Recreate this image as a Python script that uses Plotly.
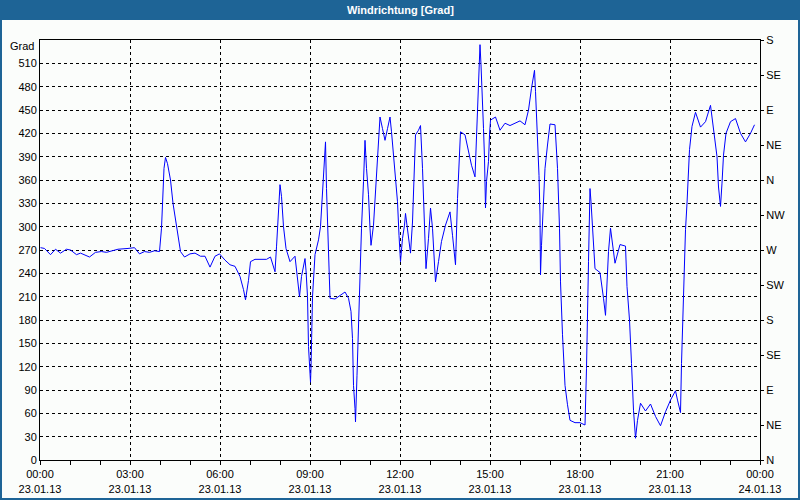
import plotly.graph_objects as go
import pandas as pd

# minutes after 23.01.13 00:00 and wind direction in degrees
minutes = [1, 9, 21, 31, 41, 53, 61, 73, 81, 89, 99, 111, 123, 133, 143, 156, 176, 189, 199, 209,
           219, 229, 239, 243, 248, 251, 255, 261, 266, 273, 281, 289, 296, 300, 310, 321, 330, 340, 350, 359,
           370, 380, 390, 400, 407, 411, 417, 421, 430, 453, 461, 470, 473, 477, 480, 483, 487, 492, 500, 510,
           515, 519, 523, 528, 530, 532, 535, 537, 539, 541, 542, 543, 545, 550, 557, 561, 565, 569, 571, 573,
           577, 580, 590, 600, 610, 617, 622, 625, 627, 630, 631, 634, 637, 640, 643, 647, 650, 653, 657, 660,
           662, 667, 670, 673, 677, 680, 685, 690, 695, 700, 703, 707, 711, 715, 718, 721, 725, 729, 731, 735,
           739, 741, 745, 748, 751, 757, 761, 765, 767, 770, 772, 777, 781, 785, 788, 791, 797, 803, 811, 820,
           825, 829, 831, 835, 838, 841, 850, 858, 863, 870, 873, 877, 880, 882, 885, 887, 889, 891, 893, 897,
           899, 901, 911, 920, 930, 940, 950, 960, 970, 977, 983, 989, 991, 995, 998, 1000, 1001, 1003, 1007, 1010,
           1015, 1020, 1030, 1035, 1039, 1041, 1045, 1050, 1055, 1060, 1070, 1080, 1090, 1093, 1097, 1100, 1102, 1105, 1110, 1120,
           1123, 1127, 1131, 1133, 1137, 1141, 1145, 1150, 1160, 1171, 1174, 1179, 1183, 1187, 1191, 1195, 1201, 1211, 1221, 1231,
           1241, 1251, 1261, 1271, 1275, 1281, 1283, 1285, 1288, 1291, 1294, 1299, 1304, 1311, 1321, 1331, 1341, 1344, 1349, 1354,
           1357, 1361, 1364, 1367, 1372, 1381, 1391, 1401, 1411, 1421, 1429]
grad = [273, 272, 264, 271, 266, 271, 270, 264, 266, 264, 261, 267, 268, 267, 269, 271, 272, 273, 265, 268,
        267, 269, 268, 298, 375, 389, 381, 360, 330, 300, 268, 261, 264, 265, 266, 262, 262, 248, 262, 265,
        257, 251, 249, 236, 219, 206, 231, 255, 258, 258, 261, 242, 274, 317, 354, 339, 300, 272, 255, 262,
        236, 210, 236, 253, 259, 244, 210, 146, 115, 100, 118, 150, 210, 264, 283, 300, 347, 394, 409, 349,
        268, 208, 207, 211, 216, 208, 191, 156, 96, 66, 49, 109, 182, 238, 298, 358, 411, 375, 341, 298,
        276, 302, 336, 375, 409, 441, 426, 411, 426, 441, 422, 392, 362, 332, 289, 255, 285, 302, 317, 298,
        281, 266, 306, 358, 418, 424, 430, 375, 336, 268, 246, 285, 324, 298, 255, 229, 255, 281, 302, 319,
        289, 268, 251, 336, 371, 422, 418, 396, 379, 364, 413, 482, 534, 508, 469, 426, 388, 324, 358, 384,
        418, 437, 441, 424, 433, 430, 433, 436, 431, 450, 478, 501, 474, 422, 366, 315, 238, 276, 324, 375,
        405, 432, 431, 375, 298, 229, 161, 96, 71, 51, 48, 48, 45, 118, 255, 349, 332, 298, 246, 241,
        229, 208, 186, 221, 268, 298, 280, 253, 277, 275, 223, 180, 124, 64, 28, 51, 73, 63, 72, 56,
        44, 62, 77, 89, 77, 61, 124, 176, 236, 296, 330, 399, 429, 447, 428, 435, 456, 441, 420, 390,
        351, 326, 356, 392, 420, 435, 439, 420, 409, 420, 431]

x_ticks = ['2013-01-23 00:00', '2013-01-23 03:00', '2013-01-23 06:00', '2013-01-23 09:00', '2013-01-23 12:00',
           '2013-01-23 15:00', '2013-01-23 18:00', '2013-01-23 21:00', '2013-01-24 00:00']
x_labels = ['00:00<br>23.01.13', '03:00<br>23.01.13', '06:00<br>23.01.13', '09:00<br>23.01.13', '12:00<br>23.01.13',
            '15:00<br>23.01.13', '18:00<br>23.01.13', '21:00<br>23.01.13', '00:00<br>24.01.13']
y_ticks = list(range(0, 540, 30))
compass_vals = list(range(0, 541, 45))
compass_labels = ['N', 'NE', 'E', 'SE', 'S', 'SW', 'W', 'NW', 'N', 'NE', 'E', 'SE', 'S']

times = pd.Timestamp('2013-01-23') + pd.to_timedelta(minutes, unit='min')

bar_color = '#1e6496'
font = 'Liberation Sans, Arial, sans-serif'

fig = go.Figure()
fig.add_trace(go.Scatter(x=times, y=grad, mode='lines', line=dict(color='#0000ff', width=1),
                         showlegend=False))
# invisible trace so the compass axis on the right is drawn
fig.add_trace(go.Scatter(x=[times[0]], y=[0], yaxis='y2', mode='markers', marker=dict(opacity=0),
                         showlegend=False, hoverinfo='skip'))

fig.update_layout(
    width=800, height=500, autosize=False,
    margin=dict(l=40, r=40, t=40, b=40, autoexpand=False),
    paper_bgcolor='#fbfdfb', plot_bgcolor='#fbfdfb',
    font=dict(family=font, size=11, color='black'),
    xaxis=dict(type='date', range=['2013-01-23 00:00', '2013-01-24 00:00'],
               tickmode='array', tickvals=x_ticks, ticktext=x_labels, automargin=False,
               showline=True, linecolor='black', linewidth=1, mirror=True,
               ticks='outside', ticklen=4, tickcolor='black',
               showgrid=True, gridcolor='black', gridwidth=1, griddash='3px,3px',
               minor=dict(dtick=3600000, ticks='outside', ticklen=4, tickcolor='black', showgrid=False),
               tickangle=0, zeroline=False),
    yaxis=dict(range=[0, 540], tickmode='array', tickvals=y_ticks, automargin=False,
               showline=True, linecolor='black', linewidth=1, ticks='',
               showgrid=True, gridcolor='black', gridwidth=1, griddash='3px,3px', zeroline=False),
    yaxis2=dict(range=[0, 540], overlaying='y', side='right', tickmode='array',
                tickvals=compass_vals, ticktext=compass_labels, automargin=False,
                showline=True, linecolor='black', linewidth=1,
                ticks='outside', ticklen=3, tickcolor='black', showgrid=False, zeroline=False),
    shapes=[
        dict(type='rect', xref='paper', yref='paper', x0=-40/720, x1=760/720, y0=440/420, y1=460/420,
             fillcolor=bar_color, line=dict(width=0), layer='above'),
        dict(type='rect', xref='paper', yref='paper', x0=-39/720, x1=759/720, y0=-39/420, y1=459/420,
             fillcolor='rgba(0,0,0,0)', line=dict(color=bar_color, width=2), layer='above'),
    ],
    annotations=[
        dict(text='<b>Windrichtung [Grad]</b>', xref='paper', yref='paper', x=0.5, y=450/420,
             showarrow=False, font=dict(color='white', size=11, family=font), xanchor='center', yanchor='middle'),
        dict(text='Grad', xref='paper', yref='paper', x=-4/720, y=414/420,
             showarrow=False, xanchor='right', yanchor='middle', font=dict(size=11, family=font)),
    ],
)

# drop the browser's default body margin so the chart sits at the page corner
fig.write_html("out.html", config=dict(displayModeBar=False),
               post_script="document.body.style.margin='0';")
